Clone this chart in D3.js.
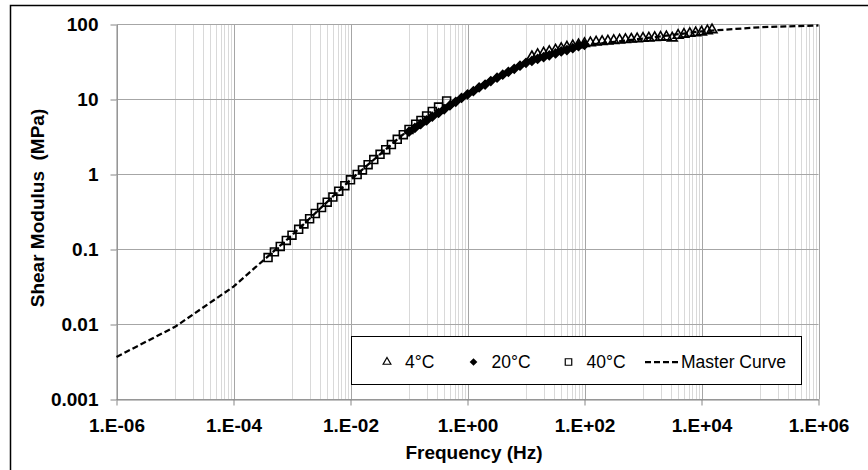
<!DOCTYPE html>
<html>
<head>
<meta charset="utf-8">
<script src="https://cdn.jsdelivr.net/npm/d3@7"></script>
<style>
  body { margin: 0; background: #fff; }
  text { font-family: "Liberation Sans", Arial, sans-serif; }
</style>
</head>
<body>
<svg id="chart"></svg>
<script>
// Taille de la page
const width = 868, height = 470;

// Données (fréquence en Hz, module en MPa)
const freqMaster = [1e-6, 1e-5, 1e-4, 1e-3, 1e-2, 1e-1, 1, 10, 100, 1e3, 1e4, 1e5, 1e6];
const gMaster = [0.0037, 0.0093, 0.032, 0.155, 0.85, 4.0, 11.7, 31, 53, 65, 81, 92, 97];

const freq40 = [0.00039, 0.0005, 0.00063, 0.0008, 0.001, 0.0013, 0.0016, 0.002, 0.0025, 0.0032,
  0.004, 0.005, 0.0063, 0.008, 0.01, 0.013, 0.016, 0.02, 0.025, 0.032,
  0.04, 0.05, 0.063, 0.08, 0.1, 0.13, 0.16, 0.2, 0.25, 0.32, 0.44];
const g40 = [0.078, 0.093, 0.11, 0.132, 0.155, 0.186, 0.219, 0.257, 0.302, 0.363,
  0.427, 0.5, 0.6, 0.71, 0.85, 1.0, 1.15, 1.35, 1.58, 1.86,
  2.14, 2.51, 2.95, 3.39, 3.98, 4.68, 5.25, 6.03, 6.92, 7.94, 9.55];

const freq20 = [0.1, 0.126, 0.158, 0.2, 0.25, 0.32, 0.4, 0.5, 0.63, 0.79,
  1, 1.26, 1.58, 2, 2.5, 3.2, 4, 5, 6.3, 7.9,
  10, 12.6, 15.8, 20, 25, 32, 40, 50, 63, 79, 100];
const g20 = [3.72, 4.17, 4.68, 5.25, 5.89, 6.61, 7.41, 8.32, 9.33, 10.5,
  11.7, 12.9, 14.5, 15.8, 17.6, 19.5, 21.4, 23.4, 25.7, 28.2,
  30.9, 32.7, 34.7, 36.7, 38.9, 41.2, 43.7, 45.7, 48.4, 51.3, 53.7];

const freq4 = [12.6, 15.8, 20, 25, 32, 40, 50, 63, 79, 100,
  126, 158, 200, 251, 316, 398, 501, 631, 794, 1000,
  1259, 1585, 1995, 2512, 3162, 3981, 5012, 6310, 7943, 10000, 12589, 15136];
const g4 = [37.2, 39.8, 41.7, 43.7, 45.7, 47.9, 50.1, 51.9, 53.7, 55.6,
  56.9, 58.2, 59.2, 60.1, 61.1, 61.9, 62.8, 63.7, 64.6, 65.3,
  66.1, 66.8, 67.6, 68.4, 66.1, 71.6, 74.1, 75.9, 77.6, 79.4, 82.2, 85.1];

// Graduations
const xTicks = [1e-6, 1e-4, 1e-2, 1, 1e2, 1e4, 1e6];
const xTickLabels = ["1.E-06", "1.E-04", "1.E-02", "1.E+00", "1.E+02", "1.E+04", "1.E+06"];
const yTicks = [0.001, 0.01, 0.1, 1, 10, 100];
const yTickLabels = ["0.001", "0.01", "0.1", "1", "10", "100"];

const svg = d3.select("#chart")
    .attr("width", width)
    .attr("height", height);

// Cadre extérieur (coupé à droite et en bas)
svg.append("rect")
    .attr("x", 10.5).attr("y", 5.5)
    .attr("width", 1000).attr("height", 1000)
    .attr("fill", "none")
    .attr("stroke", "#000")
    .attr("stroke-width", 1.5);

// Échelles
const x = d3.scaleLog().domain([1e-6, 1e6]).range([116.5, 818.5]);
const y = d3.scaleLog().domain([0.001, 100]).range([399.5, 24.5]);

// Grille verticale secondaire : 1..9 x 10^k, seulement dans la 2e décade de chaque intervalle principal
const minorX = [];
for (let k = -5; k < 6; k += 2) {
  for (let m = 1; m < 10; m++) minorX.push(m * Math.pow(10, k));
}
svg.append("g")
  .selectAll("line")
  .data(minorX)
  .enter()
  .append("line")
    .attr("x1", d => Math.round(x(d)) + 0.5)
    .attr("x2", d => Math.round(x(d)) + 0.5)
    .attr("y1", y(100))
    .attr("y2", y(0.001))
    .attr("stroke", "#d9d9d9")
    .attr("stroke-width", 1);

// Grille principale
svg.append("g")
  .selectAll("line")
  .data(xTicks)
  .enter()
  .append("line")
    .attr("x1", d => Math.round(x(d)) + 0.5)
    .attr("x2", d => Math.round(x(d)) + 0.5)
    .attr("y1", y(100))
    .attr("y2", y(0.001))
    .attr("stroke", "#a6a6a6");

svg.append("g")
  .selectAll("line")
  .data(yTicks)
  .enter()
  .append("line")
    .attr("x1", x(1e-6))
    .attr("x2", x(1e6))
    .attr("y1", d => y(d))
    .attr("y2", d => y(d))
    .attr("stroke", "#a6a6a6");

// Axes
const xAxis = svg.append("g")
    .attr("transform", `translate(0,${y(0.001)})`)
    .call(d3.axisBottom(x).tickValues(xTicks).tickFormat((d, i) => xTickLabels[i]).tickSize(6).tickSizeOuter(0));
const yAxis = svg.append("g")
    .attr("transform", `translate(${x(1e-6)},0)`)
    .call(d3.axisLeft(y).tickValues(yTicks).tickFormat((d, i) => yTickLabels[i]).tickSize(6).tickSizeOuter(0));

[xAxis, yAxis].forEach(a => {
  a.select(".domain").attr("stroke", "#868686");
  a.selectAll(".tick line").attr("stroke", "#868686");
  a.selectAll("text")
    .attr("fill", "#000")
    .style("font-size", "19px")
    .style("font-weight", "bold")
    .style("font-family", "'Liberation Sans', Arial, sans-serif");
});
xAxis.selectAll("text").attr("y", 32.5).attr("dy", 0);
yAxis.selectAll("text").attr("x", -18).attr("dy", "0.34em");

// Titres des axes
svg.append("text")
    .attr("x", 474).attr("y", 459)
    .attr("text-anchor", "middle")
    .style("font-size", "19px")
    .style("font-weight", "bold")
    .text("Frequency (Hz)");

svg.append("text")
    .attr("transform", "translate(44,208) rotate(-90)")
    .attr("text-anchor", "middle")
    .style("font-size", "19px")
    .style("font-weight", "bold")
    .style("white-space", "pre")
    .text("Shear Modulus  (MPa)");

// Symboles
const triPath = d3.symbol().type(d3.symbolTriangle).size(42)();
const sqPath = d3.symbol().type(d3.symbolSquare).size(62)();
const diaPath = d3.symbol().type(d3.symbolSquare).size(36)();

function drawSeries(freqs, vals, path, fill, rotate) {
  svg.append("g")
    .selectAll("path")
    .data(freqs.map((f, i) => ({ f: f, g: vals[i] })))
    .enter()
    .append("path")
      .attr("d", path)
      .attr("transform", d => `translate(${x(d.f)},${y(d.g)})` + (rotate ? " rotate(45)" : ""))
      .attr("fill", fill)
      .attr("stroke", "#000")
      .attr("stroke-width", 1.6);
}

drawSeries(freq4, g4, triPath, "none", false);
drawSeries(freq20, g20, diaPath, "#000", true);
drawSeries(freq40, g40, sqPath, "none", false);

// Courbe maîtresse
const line = d3.line()
    .x((d, i) => x(freqMaster[i]))
    .y(d => y(d));
svg.append("path")
    .datum(gMaster)
    .attr("d", line)
    .attr("fill", "none")
    .attr("stroke", "#000")
    .attr("stroke-width", 2.25)
    .attr("stroke-dasharray", "6,3");

// Légende
const legend = svg.append("g");
legend.append("rect")
    .attr("x", 351.5).attr("y", 336.5)
    .attr("width", 450).attr("height", 48)
    .attr("fill", "#fff")
    .attr("stroke", "#000");

const ly = 362;
legend.append("path").attr("d", d3.symbol().type(d3.symbolTriangle).size(26)())
    .attr("transform", `translate(387,${ly})`).attr("fill", "none").attr("stroke", "#000").attr("stroke-width", 1.2);
legend.append("path").attr("d", d3.symbol().type(d3.symbolSquare).size(30)())
    .attr("transform", `translate(473.5,${ly}) rotate(45)`).attr("fill", "#000");
legend.append("path").attr("d", d3.symbol().type(d3.symbolSquare).size(42)())
    .attr("transform", `translate(568.5,${ly})`).attr("fill", "none").attr("stroke", "#000").attr("stroke-width", 1.2);
legend.append("line")
    .attr("x1", 645).attr("x2", 680).attr("y1", ly).attr("y2", ly)
    .attr("stroke", "#000").attr("stroke-width", 2.25).attr("stroke-dasharray", "6,3");

const legendItems = [["4°C", 405], ["20°C", 491.5], ["40°C", 586.5], ["Master Curve", 681]];
legend.selectAll("text.item")
  .data(legendItems)
  .enter()
  .append("text")
    .attr("x", d => d[1])
    .attr("y", 367.5)
    .style("font-size", "17.5px")
    .text(d => d[0]);
</script>
</body>
</html>
